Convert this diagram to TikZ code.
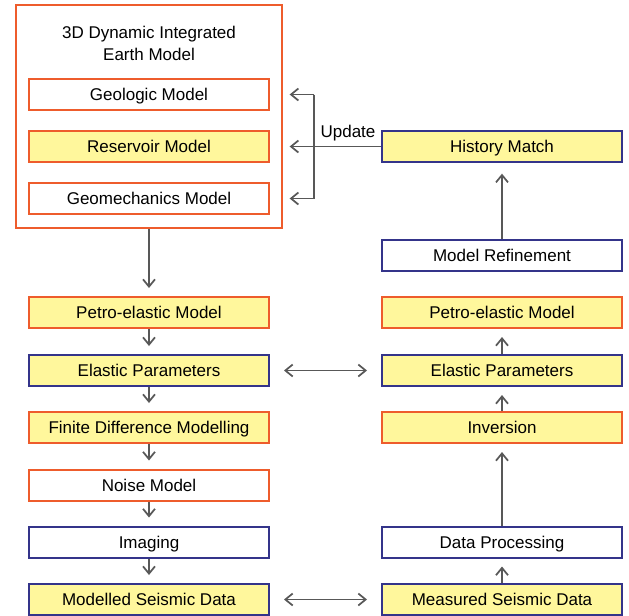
\documentclass[tikz,border=0pt]{standalone}
\usepackage{fontspec}
\setmainfont{Liberation Sans}
\usepackage{xcolor}
\usepackage{tikz}
\usetikzlibrary{arrows.meta}

\definecolor{boxorange}{RGB}{238,92,44}
\definecolor{boxblue}{RGB}{52,52,138}
\definecolor{boxyellow}{RGB}{255,247,156}
\definecolor{arrowgray}{RGB}{88,88,88}

\tikzset{
	box/.style={draw, line width=1.5pt, minimum width=180pt, minimum height=23.25pt, inner sep=0pt,
		text height=9.2pt, text depth=0pt, font=\fontsize{12.75}{15}\selectfont},
	obox/.style={box, draw=boxorange, fill=white},
	oybox/.style={box, draw=boxorange, fill=boxyellow},
	bbox/.style={box, draw=boxblue, fill=white},
	bybox/.style={box, draw=boxblue, fill=boxyellow},
	link/.style={draw=arrowgray, line width=1.3pt},
	arr/.style={link, -{Straight Barb[length=5.5pt,width=9pt]}, shorten >=6pt},
	darr/.style={link, {Straight Barb[length=5.5pt,width=9pt]}-{Straight Barb[length=5.5pt,width=9pt]},
		shorten >=10.5pt, shorten <=10.5pt}
}

\begin{document}
\begin{tikzpicture}[x=0.75pt, y=-0.75pt]
		\useasboundingbox (0,0) rectangle (629,615);

		% 地球模型
		\node[draw=boxorange, line width=1.5pt, minimum width=199.5pt, minimum height=167.25pt] (earth) at (149,116.5) {};
		\node[align=center, font=\fontsize{12.75}{16.5}\selectfont] (title) at (149,43) {3D Dynamic Integrated\\Earth Model};
		\node[obox] (geo) at (149,94.5) {Geologic Model};
		\node[oybox] (res) at (149,146.5) {Reservoir Model};
		\node[obox] (gm) at (149,198.5) {Geomechanics Model};

		% 左列
		\node[oybox] (pemL) at (149,312.5) {Petro-elastic Model};
		\node[bybox] (epL) at (149,370.5) {Elastic Parameters};
		\node[oybox] (fdm) at (149,427.5) {Finite Difference Modelling};
		\node[obox] (noise) at (149,485) {Noise Model};
		\node[bbox] (img) at (149,542) {Imaging};
		\node[bybox] (mod) at (149,599.5) {Modelled Seismic Data};

		% 右列
		\node[bybox] (hm) at (502,146.5) {History Match};
		\node[bbox] (mr) at (502,255) {Model Refinement};
		\node[oybox] (pemR) at (502,312.5) {Petro-elastic Model};
		\node[bybox] (epR) at (502,370.5) {Elastic Parameters};
		\node[oybox] (inv) at (502,427.5) {Inversion};
		\node[bbox] (dp) at (502,542) {Data Processing};
		\node[bybox] (meas) at (502,599.5) {Measured Seismic Data};

		% 左列箭头
		\draw[arr] (earth.south) -- (pemL.north);
		\draw[arr] (pemL) -- (epL);
		\draw[arr] (epL) -- (fdm);
		\draw[arr] (fdm) -- (noise);
		\draw[arr] (noise) -- (img);
		\draw[arr] (img) -- (mod);

		% 右列箭头
		\draw[arr] (meas) -- (dp);
		\draw[arr] (dp) -- (inv);
		\draw[arr] (inv) -- (epR);
		\draw[arr] (epR) -- (pemR);
		\draw[arr, shorten >=8pt] (mr) -- (hm);

		% 双向箭头
		\draw[darr] (epL) -- (epR);
		\draw[darr] (mod) -- (meas);

		% 更新
		\coordinate (upd) at (314,0);
		\draw[link] (upd |- geo.east) -- (upd |- gm.east);
		\draw[arr, shorten >=5pt] (upd |- geo.east) -- (earth.east |- geo.east);
		\draw[arr, shorten >=5pt] (upd |- gm.east) -- (earth.east |- gm.east);
		\draw[arr, shorten >=5pt] (hm.west) -- (earth.east |- hm.west);
		\node[font=\fontsize{12.75}{15}\selectfont] (updlbl) at (348,133) {Update};
	\end{tikzpicture}
\end{document}
